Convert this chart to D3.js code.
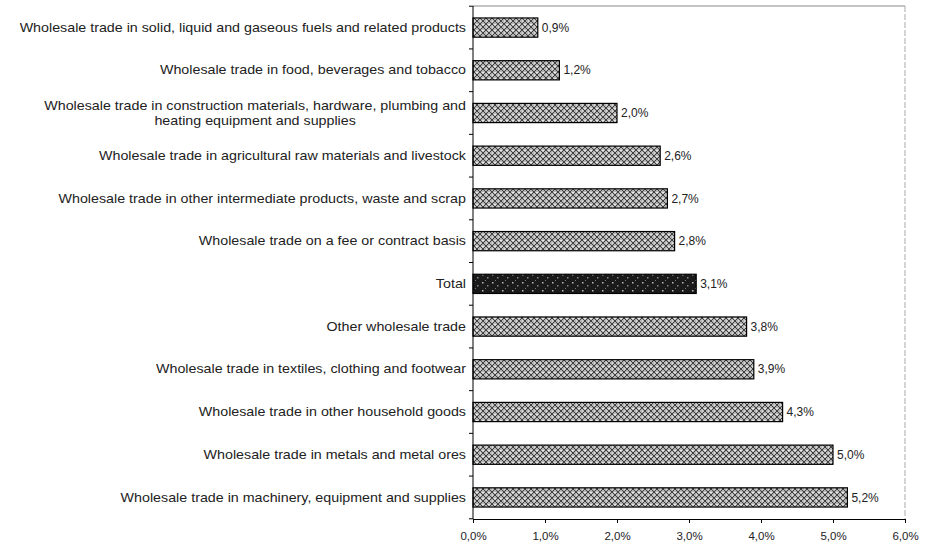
<!DOCTYPE html>
<html>
<head>
<meta charset="utf-8">
<script src="https://cdn.jsdelivr.net/npm/d3@7"></script>
<style>
  html, body { margin: 0; padding: 0; background: #fff; }
  svg { display: block; font-family: "Liberation Sans", Arial, sans-serif; }
</style>
</head>
<body>
<svg id="chart" width="937" height="548"></svg>
<script>
// Growth rate by wholesale trade activity (top to bottom)
const categories = [
  "Wholesale trade in solid, liquid and gaseous fuels and related products",
  "Wholesale trade in food, beverages and tobacco",
  "Wholesale trade in construction materials, hardware, plumbing and|heating equipment and supplies",
  "Wholesale trade in agricultural raw materials and livestock",
  "Wholesale trade in other intermediate products, waste and scrap",
  "Wholesale trade on a fee or contract basis",
  "Total",
  "Other wholesale trade",
  "Wholesale trade in textiles, clothing and footwear",
  "Wholesale trade in other household goods",
  "Wholesale trade in metals and metal ores",
  "Wholesale trade in machinery, equipment and supplies"
];
const values = [0.9, 1.2, 2.0, 2.6, 2.7, 2.8, 3.1, 3.8, 3.9, 4.3, 5.0, 5.2];
const xTicks = [0, 1, 2, 3, 4, 5, 6];

const fmt = v => v.toFixed(1).replace(".", ",") + "%";

const svg = d3.select("#chart");
const plotL = 473, plotR = 905, plotT = 6, plotB = 519;

const x = d3.scaleLinear().domain([0, 6]).range([plotL, plotR]);
const y = d3.scaleBand().domain(categories).range([plotT, plotB])
  .paddingInner(0.55).paddingOuter(0.28);

// Hatch fills
const defs = svg.append("defs");
const hatch = defs.append("pattern").attr("id", "hatch")
  .attr("patternUnits", "userSpaceOnUse").attr("width", 6).attr("height", 6);
hatch.append("rect").attr("width", 6).attr("height", 6).attr("fill", "#b4b4b4");
hatch.append("path").attr("d", "M0,0L6,6M6,0L0,6M-1,5L1,7M5,-1L7,1M-1,1L1,-1M5,7L7,5")
  .attr("stroke", "#333").attr("stroke-width", 0.9);
hatch.append("rect").attr("x", 2.3).attr("y", 0).attr("width", 1.4).attr("height", 1.2).attr("fill", "#fff");
hatch.append("rect").attr("x", 0).attr("y", 2.5).attr("width", 1.1).attr("height", 1.1).attr("fill", "#f4f4f4");

const dark = defs.append("pattern").attr("id", "dark")
  .attr("patternUnits", "userSpaceOnUse").attr("width", 10).attr("height", 8);
dark.append("rect").attr("width", 10).attr("height", 8).attr("fill", "#1a1a1a");
dark.append("rect").attr("x", 2).attr("y", 2).attr("width", 1.5).attr("height", 1.5).attr("fill", "#bbb");
dark.append("rect").attr("x", 7).attr("y", 5).attr("width", 1.5).attr("height", 1.5).attr("fill", "#888");
dark.append("rect").attr("x", 5).attr("y", 0).attr("width", 1).attr("height", 1).attr("fill", "#777");

// Frame: top and right edges
svg.append("line").attr("x1", plotL).attr("x2", plotR).attr("y1", plotT).attr("y2", plotT)
  .attr("stroke", "#888").attr("stroke-width", 1);
svg.append("line").attr("x1", plotR).attr("x2", plotR).attr("y1", plotT).attr("y2", plotB)
  .attr("stroke", "#aaa").attr("stroke-width", 1).attr("stroke-dasharray", "6,2");

// Bars
svg.append("g").selectAll("rect").data(categories).join("rect")
  .attr("x", x(0))
  .attr("y", d => y(d))
  .attr("width", (d, i) => x(values[i]) - x(0))
  .attr("height", y.bandwidth())
  .attr("fill", d => d === "Total" ? "url(#dark)" : "url(#hatch)")
  .attr("stroke", "#000").attr("stroke-width", 1.2);

// Value labels
svg.append("g").selectAll("text").data(categories).join("text")
  .attr("x", (d, i) => x(values[i]) + 4)
  .attr("y", d => y(d) + y.bandwidth() / 2)
  .attr("dy", "0.35em")
  .attr("font-size", 12)
  .attr("fill", "#222")
  .text((d, i) => fmt(values[i]));

// X axis
const xAxis = svg.append("g").attr("transform", `translate(0,${plotB})`)
  .call(d3.axisBottom(x).tickValues(xTicks).tickFormat(fmt).tickSize(4).tickSizeOuter(0));
xAxis.select(".domain").attr("stroke", "#000");
xAxis.selectAll("text").attr("font-size", 11.5).attr("fill", "#222")
  .attr("font-family", "Liberation Sans, Arial, sans-serif").attr("dy", "1.25em");

// Y axis line with ticks between categories
svg.append("line").attr("x1", plotL).attr("x2", plotL).attr("y1", plotT).attr("y2", plotB)
  .attr("stroke", "#000").attr("stroke-width", 1);
const step = y.step();
const bounds = d3.range(categories.length + 1).map(i => y(categories[0]) - y.paddingInner() * step / 2 + i * step);
svg.append("g").selectAll("line").data(bounds).join("line")
  .attr("x1", plotL - 4).attr("x2", plotL).attr("y1", d => d).attr("y2", d => d)
  .attr("stroke", "#000");

// Category labels, set in a horizontally widened face
const stretch = 1.19;
const labels = svg.append("g").selectAll("g").data(categories).join("g")
  .attr("transform", d => `translate(${plotL - 7},${y(d) + y.bandwidth() / 2}) scale(${stretch},1)`);
labels.each(function (d) {
  const g = d3.select(this);
  const lines = d.split("|");
  if (lines.length === 1) {
    g.append("text").attr("text-anchor", "end").attr("font-size", 12).attr("fill", "#222")
      .attr("dy", "0.35em").text(d);
  } else {
    const first = g.append("text").attr("text-anchor", "end").attr("font-size", 12).attr("fill", "#222")
      .attr("y", -7.5).attr("dy", "0.35em").text(lines[0]);
    const w = first.node().getComputedTextLength();
    g.append("text").attr("text-anchor", "middle").attr("font-size", 12).attr("fill", "#222")
      .attr("x", -w / 2).attr("y", 7.5).attr("dy", "0.35em").text(lines[1]);
  }
});
</script>
</body>
</html>
